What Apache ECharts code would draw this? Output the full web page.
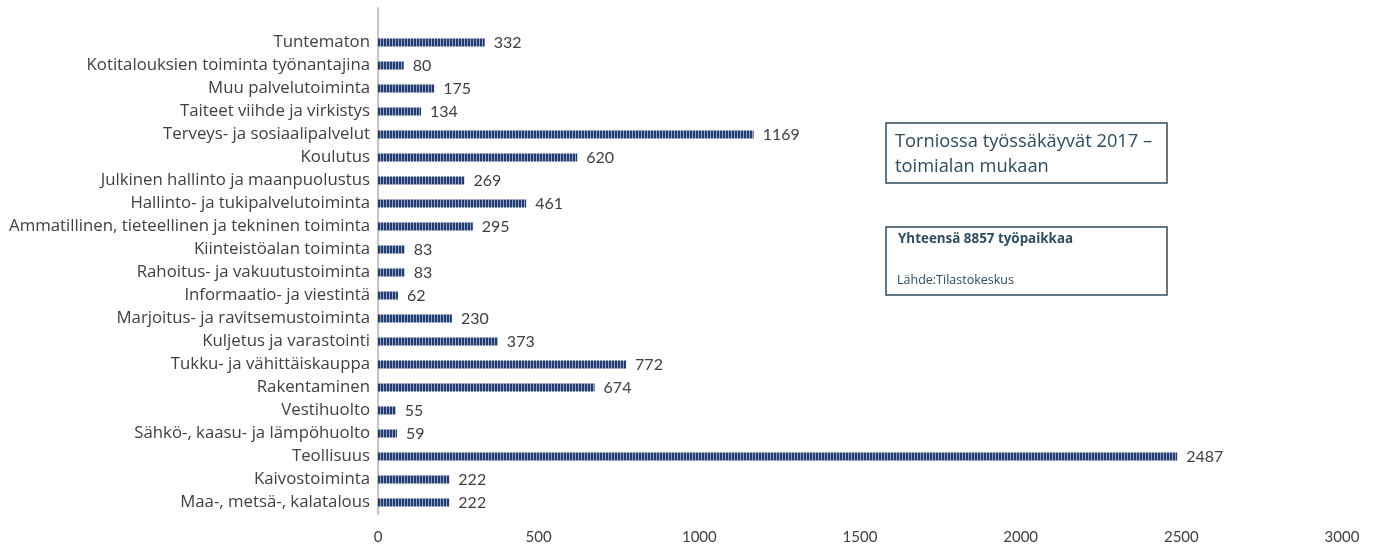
<!DOCTYPE html>
<html><head><meta charset="utf-8">
<script src="https://cdn.jsdelivr.net/npm/echarts@6/dist/echarts.min.js"></script>
<style>html,body{margin:0;padding:0;background:#fff}#c{width:1378px;height:546px}</style>
</head><body><div id="c"></div>
<script>
// categories bottom to top (last one blank spacer at the top of the axis)
var categories = ["Maa-, metsä-, kalatalous","Kaivostoiminta","Teollisuus","Sähkö-, kaasu- ja lämpöhuolto","Vestihuolto","Rakentaminen","Tukku- ja vähittäiskauppa","Kuljetus ja varastointi","Marjoitus- ja ravitsemustoiminta","Informaatio- ja viestintä","Rahoitus- ja vakuutustoiminta","Kiinteistöalan toiminta","Ammatillinen, tieteellinen ja tekninen toiminta","Hallinto- ja tukipalvelutoiminta","Julkinen hallinto ja maanpuolustus","Koulutus","Terveys- ja sosiaalipalvelut","Taiteet viihde ja virkistys","Muu palvelutoiminta","Kotitalouksien toiminta työnantajina","Tuntematon",""];
var values = [222,222,2487,59,55,674,772,373,230,62,83,83,295,461,269,620,1169,134,175,80,332,null];
var xTicks = [0,500,1000,1500,2000,2500,3000];

var pc = document.createElement('canvas');
pc.width = 3; pc.height = 8;
var g = pc.getContext('2d');
g.fillStyle = '#243b6e'; g.fillRect(0,0,3,8);
g.fillStyle = '#94a6cc'; g.fillRect(2,0,1,8);

var chart = echarts.init(document.getElementById('c'));
var font = 'Lato, "Open Sans", sans-serif';
var font2 = '"Open Sans", Lato, sans-serif';
chart.setOption({
  animation:false,
  grid:{left:378,right:36,top:8,bottom:32,containLabel:false},
  xAxis:{type:'value',min:xTicks[0],max:xTicks[xTicks.length-1],interval:500,
    axisLine:{show:false},axisTick:{show:false},splitLine:{show:false},
    axisLabel:{fontFamily:font,fontSize:15,color:'#404040',margin:16,formatter:function(v){return String(v);}}},
  yAxis:{type:'category',data:categories,
    axisLine:{show:true,lineStyle:{color:'#c4c4c4',width:2}},axisTick:{show:false},
    axisLabel:{fontFamily:font2,fontSize:16.8,color:'#404040',margin:8}},
  series:[{type:'bar',data:values,barWidth:8,
    itemStyle:{color:{image:pc,repeat:'repeat'}},
    label:{show:true,position:'right',distance:9,fontFamily:font,fontSize:16,color:'#404040'}}],
  graphic:[
    {type:'rect',shape:{x:886,y:123,width:281,height:60},style:{fill:'#fff',stroke:'#2f4b5f',lineWidth:1.5}},
    {type:'text',x:895,y:129,style:{text:'Torniossa työssäkäyvät 2017 –\ntoimialan mukaan',fill:'#2f4b5f',font:'18.3px '+font2,lineHeight:25}},
    {type:'rect',shape:{x:886,y:227,width:281,height:68},style:{fill:'#fff',stroke:'#2f4b5f',lineWidth:1.5}},
    {type:'text',x:898,y:233,style:{text:'Yhteensä 8857 työpaikkaa',fill:'#2f4b5f',font:'bold 13.4px '+font2}},
    {type:'text',x:897,y:274,style:{text:'Lähde:Tilastokeskus',fill:'#2f4b5f',font:'12.5px '+font2}}
  ]
});
</script></body></html>
